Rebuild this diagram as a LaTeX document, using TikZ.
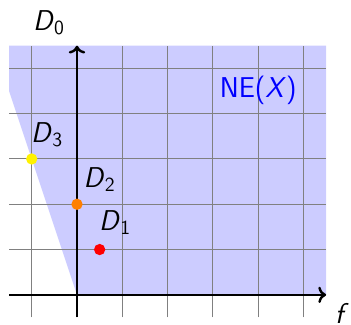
\documentclass[tikz,border=0pt]{standalone}
\usepackage{xcolor}
\usepackage{tikz}
\usetikzlibrary{arrows.meta,positioning}
\newcommand{\dname}[1]{\textit{D}\textsubscript{#1}}
\tikzset{
  gridline/.style={draw=gray, line width=0.6pt},
  axis/.style={->, line width=1.5pt},
  cone/.style={fill=blue!20},
  dot/.style={circle, fill=#1, inner sep=0pt, minimum size=2.5mm},
  lbl/.style={font=\sffamily\fontsize{18}{21}\selectfont, inner sep=1pt}
}

\begin{document}
\begin{tikzpicture}
  \useasboundingbox (-1.70,-0.66) rectangle (6.05,6.51);
  % shaded cone and grid
  \fill[cone] (0,0) -- (-1.5,4.5) -- (-1.5,5.5) -- (5.5,5.5) -- (5.5,0) -- cycle;
  \draw[gridline] (-1.5,-0.5) grid (5.5,5.5);

  \coordinate (xstart) at (-1.5,0);
  \coordinate (xend) at (5.5,0);
  \coordinate (ystart) at (0,-0.5);
  \coordinate (yend) at (0,5.5);
  \draw[axis] (xstart) -- (xend);
  \draw[axis] (ystart) -- (yend);
  \node[lbl] (flbl) at (5.85,-0.42) {\textit{f}};
  \node[lbl] (d0lbl) at (-0.62,6.0) {\dname{0}};

  \node[dot=red] (d1) at (0.5,1) {};
  \node[dot=orange] (d2) at (0,2) {};
  \node[dot=yellow] (d3) at (-1,3) {};
  \node[lbl] (d1lbl) at (0.84,1.6) {\dname{1}};
  \node[lbl] (d2lbl) at (0.5,2.54) {\dname{2}};
  \node[lbl] (d3lbl) at (-0.66,3.54) {\dname{3}};
  \node[lbl, text=blue] (nelbl) at (4,4.52) {NE(\textit{X})};
\end{tikzpicture}
\end{document}
